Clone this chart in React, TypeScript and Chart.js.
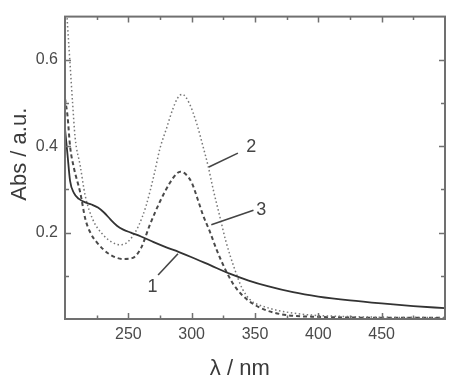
import React, { useEffect, useRef } from "react";
import { Chart, registerables } from "chart.js";

Chart.register(...registerables);

// Curve 1 (solid)
const x1 = [200, 202, 204, 207, 211, 216, 221, 226, 231, 236, 241, 246, 252, 260, 270, 280, 290, 300, 315, 330, 345, 360, 380, 400, 425, 450, 475, 500];
const y1 = [0.44, 0.38, 0.32, 0.292, 0.278, 0.27, 0.265, 0.258, 0.246, 0.23, 0.216, 0.207, 0.2, 0.191, 0.178, 0.166, 0.155, 0.143, 0.124, 0.105, 0.089, 0.076, 0.062, 0.052, 0.043, 0.036, 0.03, 0.025];

// Curve 2 (dotted)
const x2 = [200, 202, 204, 206, 208, 212, 216, 222, 230, 237, 243, 248, 253, 258, 264, 270, 275, 280, 285, 289, 292.5, 298, 304, 309, 313, 317, 322, 327, 334, 340, 346, 359, 375, 395, 420, 450, 500];
const y2 = [0.78, 0.68, 0.59, 0.5, 0.42, 0.355, 0.285, 0.23, 0.195, 0.178, 0.172, 0.175, 0.19, 0.215, 0.262, 0.33, 0.395, 0.44, 0.485, 0.512, 0.52, 0.5, 0.452, 0.399, 0.354, 0.3, 0.24, 0.18, 0.115, 0.07, 0.045, 0.027, 0.016, 0.009, 0.006, 0.004, 0.003];

// Curve 3 (dashed)
const x3 = [200, 202, 204, 207, 212, 216, 220, 225, 235, 246, 253, 260, 267, 275, 283, 288, 291, 295, 300, 305, 309, 314, 320, 327, 333, 340, 348, 359, 375, 400, 450, 500];
const y3 = [0.51, 0.47, 0.4, 0.35, 0.293, 0.232, 0.2, 0.178, 0.15, 0.139, 0.141, 0.164, 0.218, 0.272, 0.316, 0.336, 0.341, 0.336, 0.316, 0.275, 0.24, 0.205, 0.158, 0.112, 0.08, 0.055, 0.036, 0.02, 0.009, 0.005, 0.003, 0.003];

// Axis ticks
const xMajorTicks = [250, 300, 350, 400, 450];
const xMinorTicks = [225, 275, 325, 375, 425, 475];
const yMajorTicks = [0.2, 0.4, 0.6];
const yMinorTicks = [0.1, 0.3, 0.5];

// Curve labels (data coordinates)
const labelTexts = ["1", "2", "3"];
const labelX = [269, 347, 355];
const labelY = [0.073, 0.399, 0.253];
const leaderFromX = [273.5, 313.6, 315.5];
const leaderFromY = [0.102, 0.352, 0.218];
const leaderToX = [289.2, 336.5, 348.8];
const leaderToY = [0.151, 0.384, 0.252];

const FONT = 'Arial, "Liberation Sans", sans-serif';

const toPoints = (xs: number[], ys: number[]) => xs.map((x, i) => ({ x, y: ys[i] }));

const framePlugin = {
  id: "frame",
  afterDraw(chart: any) {
    const { ctx, chartArea: a, scales } = chart;
    const xs = scales.x;
    const ys = scales.y;
    ctx.save();
    // curve labels & leaders
    ctx.strokeStyle = "#444";
    ctx.lineWidth = 1.6;
    for (let i = 0; i < labelTexts.length; i++) {
      ctx.beginPath();
      ctx.moveTo(xs.getPixelForValue(leaderFromX[i]), ys.getPixelForValue(leaderFromY[i]));
      ctx.lineTo(xs.getPixelForValue(leaderToX[i]), ys.getPixelForValue(leaderToY[i]));
      ctx.stroke();
    }
    ctx.fillStyle = "#444";
    ctx.font = `18px ${FONT}`;
    ctx.textAlign = "center";
    ctx.textBaseline = "middle";
    for (let i = 0; i < labelTexts.length; i++) {
      ctx.fillText(labelTexts[i], xs.getPixelForValue(labelX[i]), ys.getPixelForValue(labelY[i]));
    }

    // frame
    ctx.strokeStyle = "#707070";
    ctx.lineWidth = 2;
    ctx.strokeRect(a.left, a.top, a.right - a.left, a.bottom - a.top);
    ctx.lineWidth = 1.5;
    const tickX = (vals: number[], len: number) => {
      vals.forEach((v) => {
        const px = Math.round(xs.getPixelForValue(v)) + 0.5;
        ctx.beginPath();
        ctx.moveTo(px, a.bottom);
        ctx.lineTo(px, a.bottom - len);
        ctx.moveTo(px, a.top);
        ctx.lineTo(px, a.top + len);
        ctx.stroke();
      });
    };
    const tickY = (vals: number[], len: number) => {
      vals.forEach((v) => {
        const py = Math.round(ys.getPixelForValue(v)) + 0.5;
        ctx.beginPath();
        ctx.moveTo(a.left, py);
        ctx.lineTo(a.left + len, py);
        ctx.moveTo(a.right, py);
        ctx.lineTo(a.right - len, py);
        ctx.stroke();
      });
    };
    tickX(xMajorTicks, 6);
    tickX(xMinorTicks, 3.5);
    tickY(yMajorTicks, 6);
    tickY(yMinorTicks, 4);

    // axis titles
    ctx.fillStyle = "#3a3a3a";
    ctx.font = `22px ${FONT}`;
    ctx.textAlign = "center";
    ctx.textBaseline = "alphabetic";
    ctx.fillText("\u03bb / nm", a.left + (a.right - a.left) * 0.46, chart.height - 3);
    ctx.save();
    ctx.translate(26, a.top + (a.bottom - a.top) * 0.455);
    ctx.rotate(-Math.PI / 2);
    ctx.fillText("Abs / a.u.", 0, 0);
    ctx.restore();
    ctx.restore();
  },
};

export default function App() {
  const ref = useRef<HTMLCanvasElement>(null);
  useEffect(() => {
    if (!ref.current) return;
    const chart = new Chart(ref.current, {
      type: "line",
      data: {
        datasets: [
          {
            label: "1",
            data: toPoints(x1, y1),
            borderColor: "#333",
            borderWidth: 1.8,
            pointRadius: 0,
            cubicInterpolationMode: "monotone",
          },
          {
            label: "2",
            data: toPoints(x2, y2),
            borderColor: "#777",
            borderWidth: 1.5,
            borderDash: [1.5, 2.5],
            pointRadius: 0,
            cubicInterpolationMode: "monotone",
          },
          {
            label: "3",
            data: toPoints(x3, y3),
            borderColor: "#4a4a4a",
            borderWidth: 2,
            borderDash: [4, 3],
            pointRadius: 0,
            cubicInterpolationMode: "monotone",
          },
        ],
      },
      options: {
        responsive: false,
        animation: false,
        layout: { padding: { top: 12, right: 5, left: 0, bottom: 0 } },
        plugins: { legend: { display: false }, tooltip: { enabled: false } },
        scales: {
          x: {
            type: "linear",
            min: 200,
            max: 500,
            grid: { display: false, drawTicks: false },
            border: { display: false },
            ticks: {
              stepSize: 50,
              padding: 6,
              maxRotation: 0,
              color: "#4a4a4a",
              font: { family: FONT, size: 16 },
              callback: (v: any) => (xMajorTicks.includes(Number(v)) ? String(v) : ""),
            },
            afterFit: (s: any) => {
              s.height = 59;
            },
          },
          y: {
            type: "linear",
            min: 0,
            max: 0.7,
            grid: { display: false, drawTicks: false },
            border: { display: false },
            ticks: {
              stepSize: 0.1,
              padding: 7,
              color: "#4a4a4a",
              font: { family: FONT, size: 16 },
              callback: (v: any) => {
                const r = Math.round(Number(v) * 10) / 10;
                return yMajorTicks.includes(r) ? r.toFixed(1) : "";
              },
            },
            afterFit: (s: any) => {
              s.width = 65;
            },
          },
        },
      },
      plugins: [framePlugin],
    });
    return () => chart.destroy();
  }, []);
  return (
    <div style={{ position: "absolute", left: 0, top: 0, width: 451, height: 378, background: "#fff" }}>
      <canvas ref={ref} width={451} height={378} style={{ display: "block" }} />
    </div>
  );
}
